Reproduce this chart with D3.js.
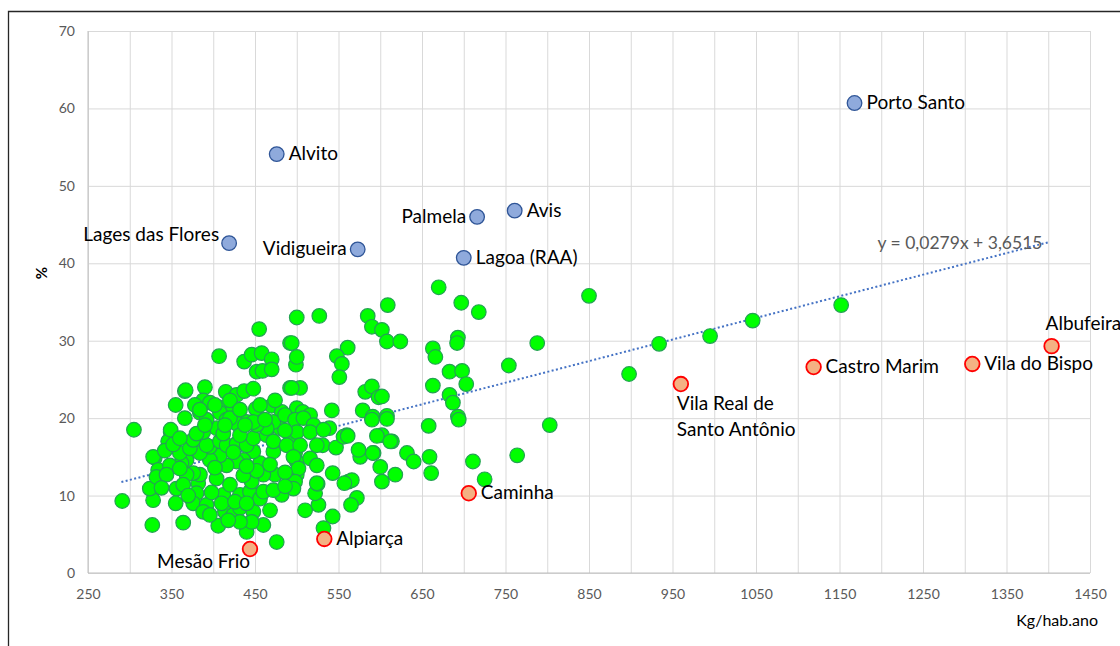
<!DOCTYPE html>
<html>
<head>
<meta charset="utf-8">
<script src="https://cdn.jsdelivr.net/npm/d3@7/dist/d3.min.js"></script>
<style>
  html, body { margin: 0; padding: 0; background: #fff; }
  svg { display: block; font-family: Lato, "Open Sans", sans-serif; }
</style>
</head>
<body>
<svg id="chart" width="1120" height="646"></svg>
<script>
// ---- data ----
var xTicks = [250, 350, 450, 550, 650, 750, 850, 950, 1050, 1150, 1250, 1350, 1450];
var yTicks = [0, 10, 20, 30, 40, 50, 60, 70];

// municipalities (Kg/hab.ano, %)
var greenPoints = [
  [291, 9.3], [305, 18.5], [327, 6.2], [328, 9.4], [324, 10.9], [330, 14.9], [349, 18.2], [346, 17.0],
  [364, 6.5], [366, 23.5], [406, 6.1], [407, 28.0], [455, 31.5], [476, 4.0], [440, 5.3],
  [492, 29.7], [500, 33.0], [437, 27.3], [446, 28.2], [458, 28.4], [470, 27.6], [452, 26.0], [459, 26.1],
  [470, 26.3], [499, 26.9], [367, 23.6], [390, 24.0], [388, 22.3], [415, 23.4], [428, 23.0], [437, 23.5],
  [448, 23.8], [492, 23.9], [378, 21.7], [396, 22.0], [408, 21.4], [422, 20.8], [451, 21.2], [470, 21.6],
  [482, 20.8], [500, 21.3], [384, 20.7], [408, 20.7],
  [527, 33.2], [585, 33.2], [590, 31.8], [602, 31.4], [608, 29.9], [624, 29.9], [609, 34.6], [670, 36.9],
  [697, 34.9], [718, 33.7], [494, 29.7], [500, 27.9], [561, 29.1], [548, 28.0], [554, 27.0], [551, 25.3],
  [663, 29.0], [666, 27.9], [693, 30.4], [692, 29.7], [683, 26.0], [698, 26.1], [703, 24.4], [663, 24.2],
  [683, 23.0], [687, 22.0], [504, 23.9], [494, 23.9], [582, 23.4], [590, 24.1], [598, 22.7], [579, 21.0],
  [591, 20.2], [608, 20.3], [542, 21.0], [507, 20.8], [516, 20.4], [693, 20.2],
  [850, 35.8], [788, 29.7], [754, 26.8], [934, 29.6], [898, 25.7], [803, 19.1], [995, 30.6], [1046, 32.6],
  [1152, 34.6],
  [694, 19.8], [658, 19.0], [602, 22.8], [608, 19.9], [602, 17.8], [614, 17.0], [632, 15.5], [640, 14.4],
  [659, 15.0], [661, 12.9], [600, 13.7], [602, 11.8], [618, 12.7], [711, 14.4], [725, 12.1], [764, 15.2],
  [592, 15.5], [576, 15.0], [560, 17.8], [596, 17.7], [562, 11.8], [566, 12.0], [572, 9.7], [565, 8.8],
  [543, 7.3], [532, 5.8], [510, 8.1], [526, 8.8], [522, 10.3], [525, 11.5], [543, 12.9], [557, 11.6],
  [531, 16.5], [547, 16.2], [556, 17.6], [561, 17.7], [539, 18.7], [574, 15.9], [591, 15.5], [612, 17.0],
  [590, 19.8],
  [349, 18.5], [328, 15.0], [334, 13.3], [332, 12.4], [356, 10.9], [355, 9.0], [368, 14.6], [362, 14.2],
  [348, 13.9], [344, 12.7], [382, 12.4], [382, 11.6], [380, 10.3], [376, 9.0], [392, 8.8], [388, 7.9],
  [396, 7.5], [412, 10.1], [414, 7.9], [424, 7.5], [432, 10.1], [432, 8.4], [444, 10.5], [448, 7.9],
  [456, 9.6], [460, 10.5], [468, 8.1], [460, 6.2], [446, 6.6], [432, 6.6], [418, 6.8], [482, 10.1],
  [472, 10.7], [500, 12.7], [500, 14.4], [498, 15.5], [494, 17.2], [480, 18.7], [472, 19.5],
  [474, 12.7], [460, 12.7], [446, 11.8], [456, 14.2], [472, 15.7], [448, 15.7], [436, 14.6], [428, 14.4],
  [416, 13.9], [408, 15.2], [396, 14.6], [396, 16.3], [384, 15.5], [384, 12.7], [376, 12.9], [368, 12.7],
  [360, 13.5], [360, 15.5], [372, 16.1], [376, 17.2], [392, 16.5], [408, 17.0], [416, 16.5], [428, 16.7],
  [440, 16.5], [448, 17.4], [464, 17.8], [472, 17.0], [488, 16.5], [464, 18.7], [452, 19.1], [440, 19.5],
  [428, 19.3], [416, 19.8], [404, 18.7], [388, 18.2], [380, 18.0], [412, 18.0], [432, 17.8], [448, 19.5],
  [392, 19.8], [420, 20.0],
  [384, 21.1], [402, 21.7], [420, 22.3], [432, 21.1], [456, 21.7], [474, 22.3], [486, 20.4], [498, 19.8],
  [462, 19.8], [438, 19.1], [414, 19.1], [390, 19.1], [366, 20.0], [355, 21.7],
  [508, 20.0], [520, 19.1], [500, 18.2], [516, 18.2], [532, 18.5], [504, 16.5], [524, 16.5], [496, 15.0],
  [502, 13.5], [516, 14.8], [524, 13.9], [498, 11.8], [496, 10.9], [524, 11.6],
  [404, 12.2], [420, 11.4], [436, 12.6], [452, 13.2], [468, 14.0], [486, 13.0], [486, 11.2], [410, 9.0],
  [426, 9.2], [440, 9.0], [398, 10.4], [364, 11.4], [370, 10.0], [342, 15.8], [352, 16.6], [486, 18.4],
  [424, 15.6], [440, 13.8], [402, 13.6], [360, 17.4], [338, 11.0]
];

var highNames = ["Porto Santo", "Alvito", "Lages das Flores", "Vidigueira", "Palmela", "Avis", "Lagoa (RAA)"];
var highX = [1168, 476, 419, 573, 716, 761, 700];
var highY = [60.7, 54.1, 42.6, 41.8, 46.0, 46.8, 40.7];

var lowNames = ["Albufeira", "Vila do Bispo", "Castro Marim", "Vila Real de\nSanto Antônio", "Caminha", "Alpiarça", "Mesão Frio"];
var lowX = [1404, 1309, 1119, 960, 706, 533, 444];
var lowY = [29.3, 27.0, 26.6, 24.4, 10.3, 4.4, 3.1];

// linear trend reported by the chart
var trendSlope = 0.0279, trendIntercept = 3.6515;
var trendRange = [290, 1400];

(function () {
  // ---- layout ----
  var labelPos = {
    "Porto Santo": "right", "Alvito": "right", "Lages das Flores": "topleft", "Vidigueira": "left",
    "Palmela": "left", "Avis": "right", "Lagoa (RAA)": "right", "Albufeira": "top",
    "Vila do Bispo": "right", "Castro Marim": "right", "Vila Real de\nSanto Antônio": "bottom",
    "Caminha": "right", "Alpiarça": "right", "Mesão Frio": "bottomleft"
  };

  var svg = d3.select("#chart");
  var pLeft = 88, pRight = 1090, pTop = 31, pBottom = 573;

  var x = d3.scaleLinear().domain([250, 1450]).range([pLeft, pRight]);
  var y = d3.scaleLinear().domain([0, 70]).range([pBottom, pTop]);

  // frame
  svg.append("path")
    .attr("d", "M8.5,646 V11.5 H1120")
    .attr("fill", "none").attr("stroke", "#262626").attr("stroke-width", 1.3);

  // grid
  svg.append("g")
    .attr("transform", "translate(0," + pBottom + ")")
    .call(d3.axisBottom(x).tickValues(d3.range(250, 1451, 50)).tickSize(-(pBottom - pTop)).tickFormat(""))
    .call(function (g) {
      g.select(".domain").remove();
      g.selectAll("line").attr("stroke", "#d9d9d9");
    });
  svg.append("g")
    .attr("transform", "translate(" + pLeft + ",0)")
    .call(d3.axisLeft(y).tickValues(yTicks).tickSize(-(pRight - pLeft)).tickFormat(""))
    .call(function (g) {
      g.select(".domain").remove();
      g.selectAll("line").attr("stroke", "#d9d9d9");
    });

  // axis lines
  svg.append("line").attr("x1", pLeft).attr("x2", pLeft).attr("y1", pTop).attr("y2", pBottom)
    .attr("stroke", "#bfbfbf");
  svg.append("line").attr("x1", pLeft).attr("x2", pRight).attr("y1", pBottom).attr("y2", pBottom)
    .attr("stroke", "#bfbfbf");

  // tick labels
  svg.append("g")
    .attr("transform", "translate(0," + (pBottom + 22) + ")")
    .call(d3.axisBottom(x).tickValues(xTicks).tickSize(0).tickPadding(0).tickFormat(d3.format("d")))
    .call(function (g) {
      g.select(".domain").remove();
      g.selectAll("text").attr("fill", "#595959").style("font-size", "14px").attr("dy", "0.32em")
        .style("font-family", "Lato, sans-serif");
    });
  svg.append("g")
    .attr("transform", "translate(" + (pLeft - 13) + ",0)")
    .call(d3.axisLeft(y).tickValues(yTicks).tickSize(0).tickPadding(0))
    .call(function (g) {
      g.select(".domain").remove();
      g.selectAll("text").attr("fill", "#595959").style("font-size", "14px")
        .style("font-family", "Lato, sans-serif");
    });

  // axis titles
  svg.append("text")
    .attr("transform", "translate(47,273) rotate(-90)")
    .attr("text-anchor", "middle").attr("fill", "#000")
    .style("font-size", "15px").style("font-weight", "bold").text("%");
  svg.append("text")
    .attr("x", 1098).attr("y", 626).attr("text-anchor", "end").attr("fill", "#000")
    .style("font-size", "16px").text("Kg/hab.ano");

  // trendline
  svg.append("line")
    .attr("x1", x(trendRange[0])).attr("y1", y(trendSlope * trendRange[0] + trendIntercept))
    .attr("x2", x(trendRange[1])).attr("y2", y(trendSlope * trendRange[1] + trendIntercept))
    .attr("stroke", "#4472c4").attr("stroke-width", 2).attr("stroke-dasharray", "2,2.4");

  svg.append("text")
    .attr("x", 960).attr("y", 249).attr("text-anchor", "middle").attr("fill", "#595959")
    .style("font-size", "17.5px")
    .text("y = 0,0279x + 3,6515");

  // points
  svg.append("g").selectAll("circle").data(greenPoints).join("circle")
    .attr("cx", function (d) { return x(d[0]); })
    .attr("cy", function (d) { return y(d[1]); })
    .attr("r", 7.3)
    .attr("fill", "#00ff00").attr("stroke", "#23a352").attr("stroke-width", 1.2);

  var highData = highNames.map(function (n, i) { return { name: n, x: highX[i], y: highY[i] }; });
  var lowData = lowNames.map(function (n, i) { return { name: n, x: lowX[i], y: lowY[i] }; });

  svg.append("g").selectAll("circle").data(highData).join("circle")
    .attr("cx", function (d) { return x(d.x); })
    .attr("cy", function (d) { return y(d.y); })
    .attr("r", 7.3)
    .attr("fill", "#8faadc").attr("stroke", "#2f5597").attr("stroke-width", 1.3);

  svg.append("g").selectAll("circle").data(lowData).join("circle")
    .attr("cx", function (d) { return x(d.x); })
    .attr("cy", function (d) { return y(d.y); })
    .attr("r", 7.3)
    .attr("fill", "#f4b183").attr("stroke", "#ff0000").attr("stroke-width", 1.8);

  // data labels
  var labels = svg.append("g").style("font-size", "19px").attr("fill", "#000");
  highData.concat(lowData).forEach(function (d) {
    var px = x(d.x), py = y(d.y), pos = labelPos[d.name];
    var t = labels.append("text");
    var lines = d.name.split("\n");
    var tx = px, ty = py + 6, anchor = "start";
    if (pos === "right") { tx = px + 12; }
    else if (pos === "left") { tx = px - 11; anchor = "end"; }
    else if (pos === "top") { tx = px - 6; ty = py - 16; }
    else if (pos === "topleft") { tx = px - 10; ty = py - 2; anchor = "end"; }
    else if (pos === "bottom") { tx = px - 4; ty = py + 26; }
    else if (pos === "bottomleft") { tx = px; ty = py + 19; anchor = "end"; }
    t.attr("text-anchor", anchor);
    lines.forEach(function (l, k) {
      t.append("tspan").attr("x", tx).attr("y", ty + k * 26).text(l);
    });
  });
})();
</script>
</body>
</html>
